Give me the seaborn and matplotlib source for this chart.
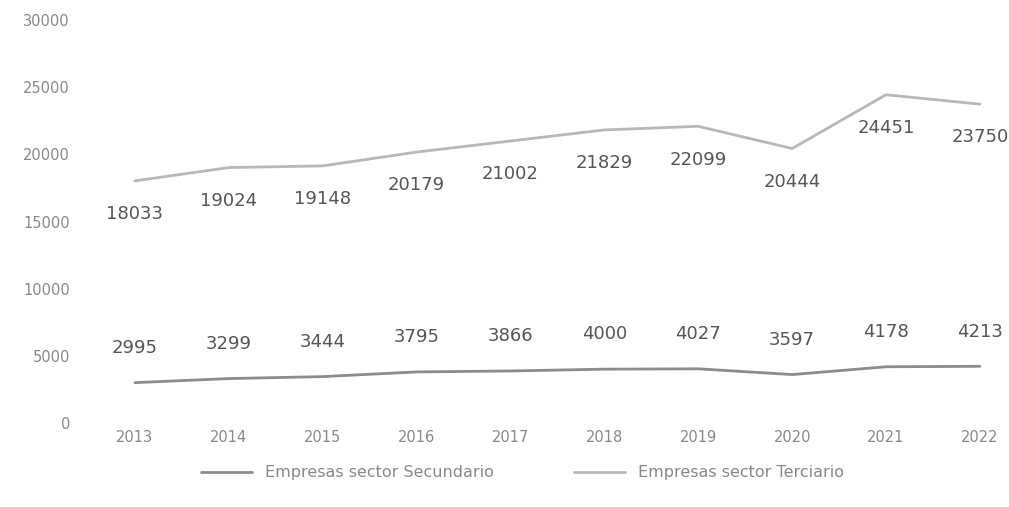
import matplotlib
matplotlib.use("Agg")
import matplotlib.pyplot as plt
import seaborn as sns
import pandas as pd

years = ["2013", "2014", "2015", "2016", "2017", "2018", "2019", "2020", "2021", "2022"]
secundario = [2995, 3299, 3444, 3795, 3866, 4000, 4027, 3597, 4178, 4213]
terciario = [18033, 19024, 19148, 20179, 21002, 21829, 22099, 20444, 24451, 23750]
series_names = ["Empresas sector Secundario", "Empresas sector Terciario"]
y_ticks = [0, 5000, 10000, 15000, 20000, 25000, 30000]

df = pd.DataFrame({
    "year": years * 2,
    "value": secundario + terciario,
    "serie": [series_names[0]] * len(years) + [series_names[1]] * len(years),
})
df["x"] = list(range(len(years))) * 2

sns.set_theme(style="white")
plt.rcParams["font.family"] = ["DejaVu Sans"]

fig = plt.figure(figsize=(10.09, 5.07), dpi=100)
ax = fig.add_axes([0.09, 0.166, 0.91, 0.794])

palette = {series_names[0]: "#8c8c8c", series_names[1]: "#b8b8b8"}
sns.lineplot(data=df, x="x", y="value", hue="serie", palette=palette,
             linewidth=2.0, ax=ax, legend=True)

for i, v in enumerate(secundario):
    ax.annotate(str(v), (i, v), xytext=(0, 25), textcoords="offset points",
                ha="center", va="center", fontsize=13, color="#555555")
for i, v in enumerate(terciario):
    ax.annotate(str(v), (i, v), xytext=(0, -24), textcoords="offset points",
                ha="center", va="center", fontsize=13, color="#555555")

ax.set_xlim(-0.47, 9.31)
ax.set_ylim(0, 30000)
ax.set_xticks(range(len(years)))
ax.set_xticklabels(years)
ax.set_yticks(y_ticks)
ax.set_yticklabels([str(t) for t in y_ticks])
ax.tick_params(axis="both", length=0, labelsize=10.5, labelcolor="#888888")
ax.tick_params(axis="y", pad=15)
ax.tick_params(axis="x", pad=5)
ax.set_xlabel("")
ax.set_ylabel("")
for s in ax.spines.values():
    s.set_visible(False)

ax.legend(loc="upper center", bbox_to_anchor=(0.47, -0.07), ncol=2, frameon=False,
          fontsize=11.5, labelcolor="#888888", handlelength=3.2, columnspacing=5)

fig.savefig("out.png", dpi=100, facecolor="white")
